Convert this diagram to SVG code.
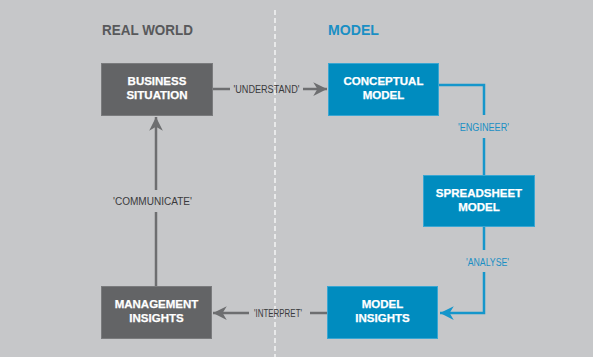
<svg xmlns="http://www.w3.org/2000/svg" width="593" height="357" viewBox="0 0 593 357">
<style>
.bg{fill:#c6c7c9}
.gbox{fill:#636466;stroke:#7a7b7d;stroke-width:1}
.bbox{fill:#008cbf;stroke:#3aa6d2;stroke-width:1}
.bt{font-family:"Liberation Sans",Arial,sans-serif;font-weight:bold;font-size:11.5px;fill:#ffffff;text-anchor:middle;stroke:#ffffff;stroke-width:0.25}
.hd{font-family:"Liberation Sans",Arial,sans-serif;font-weight:bold;font-size:15.5px}
.lbl{font-family:"Liberation Sans",Arial,sans-serif;font-size:10px}
.gl{fill:none;stroke:#6d6e70;stroke-width:2.5}
.bl{fill:none;stroke:#1596cb;stroke-width:2.5}
</style>
<defs>
<marker id="ag" viewBox="0 0 10 10" refX="10" refY="5" markerWidth="5.5" markerHeight="5.5" orient="auto" markerUnits="strokeWidth">
<path d="M0,0 L10,5 L0,10 L3,5 Z" fill="#6d6e70"/>
</marker>
<marker id="ab" viewBox="0 0 10 10" refX="10" refY="5" markerWidth="5.5" markerHeight="5.5" orient="auto" markerUnits="strokeWidth">
<path d="M0,0 L10,5 L0,10 L3,5 Z" fill="#1596cb"/>
</marker>
</defs>
<rect class="bg" x="0" y="0" width="593" height="357"/>
<line x1="275" y1="10" x2="275" y2="357" stroke="#ffffff" stroke-width="1.2" stroke-dasharray="5,3"/>
<text class="hd" x="102" y="35" fill="#58595b" textLength="91" lengthAdjust="spacingAndGlyphs">REAL WORLD</text>
<text class="hd" x="328" y="35" fill="#1a8fc4" textLength="51" lengthAdjust="spacingAndGlyphs">MODEL</text>

<g id="connectors">
<line class="gl" x1="213" y1="89" x2="230" y2="89"/>
<line class="gl" x1="303" y1="89" x2="327" y2="89" marker-end="url(#ag)"/>
<text class="lbl" x="233.5" y="92.5" fill="#3a3a3c" textLength="66" lengthAdjust="spacingAndGlyphs">'UNDERSTAND'</text>
<polyline class="bl" points="439,85 484,85 484,115"/>
<line class="bl" x1="484" y1="138" x2="484" y2="175"/>
<text class="lbl" x="458" y="130.5" fill="#1a8fc4" textLength="51" lengthAdjust="spacingAndGlyphs">'ENGINEER'</text>
<line class="bl" x1="484" y1="227" x2="484" y2="250"/>
<polyline class="bl" points="484,272 484,313 440,313" marker-end="url(#ab)"/>
<text class="lbl" x="466" y="265.5" fill="#1a8fc4" textLength="43" lengthAdjust="spacingAndGlyphs">'ANALYSE'</text>
<line class="gl" x1="327" y1="313" x2="310" y2="313"/>
<line class="gl" x1="249" y1="313" x2="213" y2="313" marker-end="url(#ag)"/>
<text class="lbl" x="254" y="316.5" fill="#3a3a3c" textLength="48" lengthAdjust="spacingAndGlyphs">'INTERPRET'</text>
<line class="gl" x1="156" y1="286" x2="156" y2="212"/>
<line class="gl" x1="156" y1="190" x2="156" y2="117" marker-end="url(#ag)"/>
<text class="lbl" x="113" y="205" fill="#3a3a3c" textLength="79" lengthAdjust="spacingAndGlyphs">'COMMUNICATE'</text>
</g>

<g id="business-situation">
<rect class="gbox" x="101.5" y="63.5" width="111" height="52"/>
<text class="bt" x="157" y="85">BUSINESS</text>
<text class="bt" x="157" y="99">SITUATION</text>
</g>
<g id="conceptual-model">
<rect class="bbox" x="328.5" y="63.5" width="110" height="52"/>
<text class="bt" x="383.5" y="85">CONCEPTUAL</text>
<text class="bt" x="383.5" y="99">MODEL</text>
</g>
<g id="spreadsheet-model">
<rect class="bbox" x="423.5" y="175.5" width="111" height="51"/>
<text class="bt" x="479" y="197">SPREADSHEET</text>
<text class="bt" x="479" y="211">MODEL</text>
</g>
<g id="model-insights">
<rect class="bbox" x="327.5" y="286.5" width="110" height="52"/>
<text class="bt" x="382.5" y="308">MODEL</text>
<text class="bt" x="382.5" y="322">INSIGHTS</text>
</g>
<g id="management-insights">
<rect class="gbox" x="101.5" y="286.5" width="110" height="52"/>
<text class="bt" x="156.5" y="308">MANAGEMENT</text>
<text class="bt" x="156.5" y="322">INSIGHTS</text>
</g>
</svg>
